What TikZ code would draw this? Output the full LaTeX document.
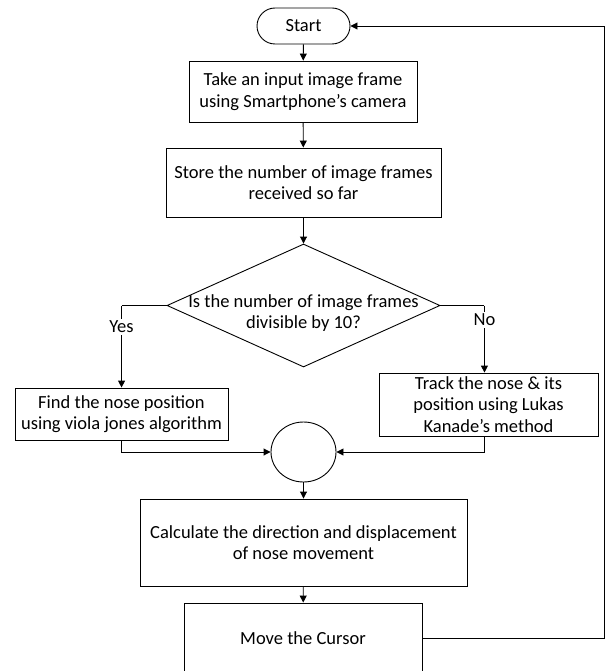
\documentclass[tikz,border=0pt]{standalone}
\usepackage{fontspec}
\setmainfont{Carlito}
\usetikzlibrary{shapes.geometric,shapes.misc,arrows.meta}
\begin{document}
\begin{tikzpicture}[x=1pt,y=-1pt,
  every node/.style={font=\fontsize{18.5}{21.5}\selectfont},
  box/.style={draw,line width=0.9pt,rectangle,align=center,inner sep=0pt},
  term/.style={draw,line width=0.9pt,rounded rectangle,inner sep=0pt},
  lbl/.style={fill=white,inner sep=2pt},
  arr/.style={line width=0.9pt,-{Triangle[length=7pt,width=7pt]}},
  ln/.style={line width=0.9pt}]
\useasboundingbox (0,0) rectangle (607,671);
\node[term,minimum width=93pt,minimum height=36pt] (start) at (303.5,26) {Start};
\node[box,minimum width=228pt,minimum height=61pt] (take) at (303,91.5) {Take an input image frame\\using Smartphone’s camera};
\node[box,minimum width=275pt,minimum height=69pt] (store) at (303.5,182.5) {Store the number of image frames\\received so far};
\node[draw,line width=0.9pt,diamond,minimum width=273pt,minimum height=123pt,inner sep=0pt] (dec) at (303.5,305.5) {};
\node[align=center] (dectext) at (303.5,313) {Is the number of image frames\\divisible by 10?};
\node[box,minimum width=213pt,minimum height=52pt] (yes) at (121.5,414) {Find the nose position\\using viola jones algorithm};
\node[box,minimum width=219pt,minimum height=63pt] (no) at (488.5,404.5) {Track the nose \& its\\position using Lukas\\Kanade’s method};
\node[draw,line width=0.9pt,ellipse,minimum width=65pt,minimum height=60pt,inner sep=0pt] (join) at (303.5,452) {};
\node[box,minimum width=327pt,minimum height=87pt] (calc) at (303.5,542.5) {Calculate the direction and displacement\\of nose movement};
\node[box,minimum width=238pt,minimum height=70pt] (move) at (303,638) {Move the Cursor};

\draw[arr] (start) -- (take);
\draw[arr] (take) -- (store);
\draw[arr] (store) -- (dec.north);
\draw[ln] (dec.west) -- ++(-45,0) coordinate (yc);
\draw[arr] (yc) -- (yes.north -| yc) node[lbl,pos=0.26] (yeslbl) {Yes};
\draw[ln] (dec.east) -- ++(44,0) coordinate (nc);
\draw[arr] (nc) -- (no.north -| nc) node[lbl,pos=0.21] (nolbl) {No};
\draw[arr] (yes.south -| yc) |- (join.west);
\draw[arr] (no.south -| nc) |- (join.east);
\draw[arr] (join) -- (calc);
\draw[arr] (calc) -- (move);
\draw[arr] (move.east) -- ++(182,0) |- (start.east);
\end{tikzpicture}
\end{document}
